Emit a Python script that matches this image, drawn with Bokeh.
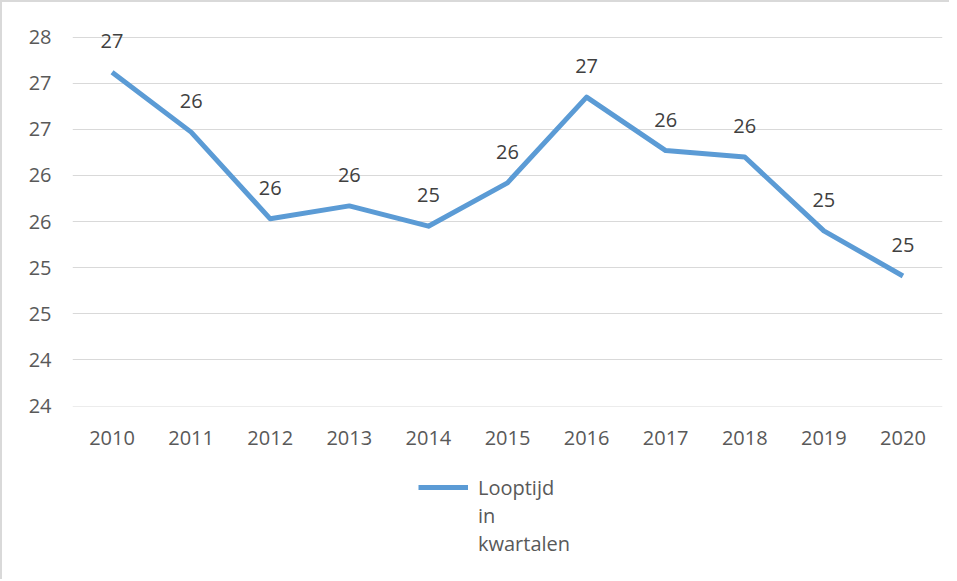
from bokeh.plotting import figure
from bokeh.layouts import column
from bokeh.models import (FactorRange, Range1d, FixedTicker, Legend, LegendItem,
                          ColumnDataSource)
from bokeh.core.properties import value
from bokeh.embed import file_html
from bokeh.resources import INLINE

years = ["2010", "2011", "2012", "2013", "2014", "2015",
         "2016", "2017", "2018", "2019", "2020"]
looptijd = [27.12, 26.47, 25.53, 25.67, 25.45, 25.92,
            26.85, 26.27, 26.20, 25.40, 24.91]
y_ticks = [23.5, 24.0, 24.5, 25.0, 25.5, 26.0, 26.5, 27.0, 27.5]
series_label_lines = ["Looptijd", "in", "kwartalen"]

FONT = "Open Sans"
LINE_COLOR = "#5b9bd5"
labels = [str(int(v + 0.5)) for v in looptijd]
src = ColumnDataSource(dict(year=years, val=looptijd, lab=labels))

p = figure(x_range=FactorRange(*years), y_range=Range1d(23.495, 27.702),
           frame_width=868, frame_height=386, output_backend="svg",
           toolbar_location=None,
           min_border_left=70, min_border_right=9, min_border_top=16,
           min_border_bottom=60)
p.styles = {"border-top": "2px solid #d9d9d9", "border-left": "2px solid #d9d9d9"}
p.outline_line_color = None
p.x_range.range_padding = 0
p.xgrid.grid_line_color = None
p.ygrid.grid_line_color = "#d9d9d9"
p.ygrid.grid_line_width = 1

p.yaxis.ticker = FixedTicker(ticks=y_ticks)
p.yaxis.major_label_overrides = {t: str(int(t + 0.5)) for t in y_ticks}
for ax in (p.xaxis, p.yaxis):
    ax.axis_line_color = None
    ax.major_tick_line_color = None
    ax.minor_tick_line_color = None
    ax.major_tick_out = 0
    ax.major_tick_in = 0
    ax.major_label_text_font = FONT
    ax.major_label_text_font_size = "20px"
    ax.major_label_text_color = "#595959"
p.yaxis.major_label_standoff = 21
p.xaxis.major_label_standoff = 24

p.line(x="year", y="val", source=src, line_color=LINE_COLOR,
       line_width=5, line_join="round")
p.text(x="year", y="val", text="lab", source=src, y_offset=-31,
       text_align="center", text_baseline="middle", text_font_size="20px",
       text_color="#404040", text_font=value(FONT))

# legend strip below the chart
p2 = figure(width=947, height=115, x_range=Range1d(0, 1), y_range=Range1d(0, 1),
            output_backend="svg", toolbar_location=None,
            x_axis_location=None, y_axis_location=None,
            min_border=0)
p2.styles = {"border-left": "2px solid #d9d9d9"}
p2.outline_line_color = None
p2.grid.grid_line_color = None
nan = float("nan")
sample = p2.line(x=[nan], y=[nan], line_color=LINE_COLOR, line_width=5)
blank = p2.line(x=[nan], y=[nan], line_color=LINE_COLOR, line_alpha=0)
items = [LegendItem(label=series_label_lines[0], renderers=[sample])]
items += [LegendItem(label=t, renderers=[blank]) for t in series_label_lines[1:]]
legend = Legend(items=items,
                location=(346, 22), orientation="vertical",
                padding=0, margin=0, spacing=0, glyph_width=50, glyph_height=28,
                label_height=28, label_standoff=10, label_text_font=FONT,
                label_text_font_size="20px", label_text_color="#595959",
                border_line_color=None, background_fill_alpha=0)
p2.add_layout(legend, "center")

open("out.html", "w").write(file_html(column(p, p2, spacing=0), INLINE))
